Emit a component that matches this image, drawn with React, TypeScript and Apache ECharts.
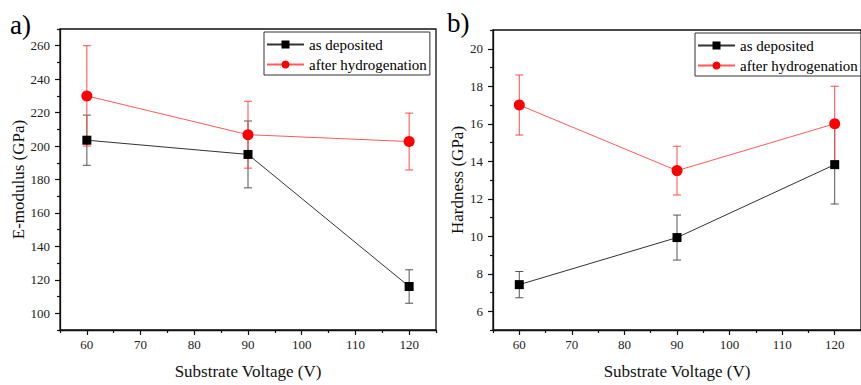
import React, { useEffect, useRef } from "react";
import * as echarts from "echarts";

const voltages = [60, 90, 120];
const eModDep = [203.5, 195, 116];
const eModDepErr = [15, 20, 10];
const eModHyd = [230, 206.8, 202.7];
const eModHydErr = [30, 20, 17];
const hardDep = [7.42, 9.93, 13.82];
const hardDepErr = [0.7, 1.2, 2.1];
const hardHyd = [17, 13.5, 16];
const hardHydErr = [1.6, 1.3, 2];

const xMajor = [60, 70, 80, 90, 100, 110, 120];
const xMinor = [55, 65, 75, 85, 95, 105, 115, 125];
const eMajor = [100, 120, 140, 160, 180, 200, 220, 240, 260];
const eMinor = [90, 110, 130, 150, 170, 190, 210, 230, 250, 270];
const hMajor = [6, 8, 10, 12, 14, 16, 18, 20];
const hMinor = [5, 7, 9, 11, 13, 15, 17, 19, 21];

const SERIES_DEP = "as deposited";
const SERIES_HYD = "after hydrogenation";

const FONT = "Liberation Serif";

export default function App() {
  const ref = useRef<HTMLDivElement>(null);
  useEffect(() => {
    if (!ref.current) return;
    const chart = echarts.init(ref.current, undefined, { renderer: "svg" });

    const pts = (vals: number[]) => voltages.map((v, i) => [v, vals[i]]);
    const errs = (vals: number[], e: number[]) =>
      voltages.map((v, i) => [v, vals[i] - e[i], vals[i] + e[i]]);

    const errRender = (color: string) => (params: any, api: any) => {
      const x = api.value(0);
      const lo = api.coord([x, api.value(1)]);
      const hi = api.coord([x, api.value(2)]);
      const w = 4;
      const style = { stroke: color, lineWidth: 1 };
      return {
        type: "group",
        children: [
          { type: "line", shape: { x1: lo[0], y1: lo[1], x2: hi[0], y2: hi[1] }, style },
          { type: "line", shape: { x1: lo[0] - w, y1: lo[1], x2: lo[0] + w, y2: lo[1] }, style },
          { type: "line", shape: { x1: hi[0] - w, y1: hi[1], x2: hi[0] + w, y2: hi[1] }, style },
        ],
      };
    };

    const labelStyle = { fontFamily: FONT, fontSize: 13, color: "#222" };
    const nameStyle = { fontFamily: FONT, fontSize: 17, color: "#111" };
    const axisLine = { show: true, lineStyle: { color: "#111", width: 1.3 } };

    const mkX = (grid: number) => [
      {
        type: "value", gridIndex: grid, min: 55, max: 125, position: "bottom",
        name: "Substrate Voltage (V)", nameLocation: "middle", nameGap: 33,
        nameTextStyle: nameStyle,
        axisLine,
        axisTick: { show: true, customValues: xMajor, length: 5, lineStyle: { color: "#111", width: 1.2 } },
        axisLabel: { customValues: xMajor, margin: 8, ...labelStyle },
        splitLine: { show: false },
      },
      {
        type: "value", gridIndex: grid, min: 55, max: 125, position: "bottom",
        axisLine: { show: false },
        axisTick: { show: true, customValues: xMinor, length: 3, lineStyle: { color: "#111", width: 1.2 } },
        axisLabel: { show: false },
        splitLine: { show: false },
      },
    ];
    const mkY = (grid: number, name: string, min: number, max: number, major: number[], minor: number[], gap: number) => [
      {
        type: "value", gridIndex: grid, min, max, position: "left",
        name, nameLocation: "middle", nameGap: gap, nameTextStyle: nameStyle,
        axisLine,
        axisTick: { show: true, customValues: major, length: 5, lineStyle: { color: "#111", width: 1.2 } },
        axisLabel: { customValues: major, margin: 10, ...labelStyle },
        splitLine: { show: false },
      },
      {
        type: "value", gridIndex: grid, min, max, position: "left",
        axisLine: { show: false },
        axisTick: { show: true, customValues: minor, length: 3, lineStyle: { color: "#111", width: 1.2 } },
        axisLabel: { show: false },
        splitLine: { show: false },
      },
    ];

    const depLine = { color: "#333", width: 1 };
    const hydLine = { color: "#ff5a5a", width: 1 };

    const mkSeries = (xi: number, yi: number, dep: number[], depE: number[], hyd: number[], hydE: number[], tag: string) => [
      {
        type: "custom", name: "err-dep-" + tag, xAxisIndex: xi, yAxisIndex: yi,
        renderItem: errRender("#555"), data: errs(dep, depE), encode: { x: 0, y: [1, 2] }, z: 1,
      },
      {
        type: "custom", name: "err-hyd-" + tag, xAxisIndex: xi, yAxisIndex: yi,
        renderItem: errRender("#ff4a4a"), data: errs(hyd, hydE), encode: { x: 0, y: [1, 2] }, z: 1,
      },
      {
        type: "line", name: SERIES_HYD, xAxisIndex: xi, yAxisIndex: yi, data: pts(hyd),
        symbol: "circle", symbolSize: 11, lineStyle: hydLine,
        itemStyle: { color: "#ff0000" }, z: 3,
      },
      {
        type: "line", name: SERIES_DEP, xAxisIndex: xi, yAxisIndex: yi, data: pts(dep),
        symbol: "rect", symbolSize: 9, lineStyle: depLine,
        itemStyle: { color: "#000" }, z: 4,
      },
    ];

    const legendBase = {
      orient: "vertical",
      data: [SERIES_DEP, SERIES_HYD],
      itemWidth: 37, itemHeight: 10, itemGap: 5,
      padding: [5, 3, 3, 2],
      borderColor: "#333", borderWidth: 1, borderRadius: 0,
      backgroundColor: "#fff",
      textStyle: { fontFamily: FONT, fontSize: 15, color: "#000" },
      selectedMode: false,
    };

    chart.setOption({
      animation: false,
      backgroundColor: "#fff",
      textStyle: { fontFamily: FONT },
      grid: [
        { left: 60, top: 29, right: 425, bottom: 51, show: true, borderColor: "#111", borderWidth: 1.3, backgroundColor: "transparent" },
        { left: 493, top: 30, right: -11, bottom: 50, show: true, borderColor: "#111", borderWidth: 1.3, backgroundColor: "transparent" },
      ],
      xAxis: [...mkX(0), ...mkX(1)],
      yAxis: [
        ...mkY(0, "E-modulus (GPa)", 90, 270, eMajor, eMinor, 31),
        ...mkY(1, "Hardness (GPa)", 5, 21, hMajor, hMinor, 26),
      ],
      legend: [
        { ...legendBase, left: 264, top: 32 },
        { ...legendBase, left: 695, top: 33 },
      ],
      graphic: [
        { type: "text", left: 10, top: 11, style: { text: "a)", fontFamily: FONT, fontSize: 27, fill: "#000" } },
        { type: "text", left: 447, top: 9, style: { text: "b)", fontFamily: FONT, fontSize: 27, fill: "#000" } },
      ],
      series: [
        ...mkSeries(0, 0, eModDep, eModDepErr, eModHyd, eModHydErr, "e"),
        ...mkSeries(2, 2, hardDep, hardDepErr, hardHyd, hardHydErr, "h"),
      ],
    });

    return () => chart.dispose();
  }, []);

  return (
    <div
      ref={ref}
      style={{ position: "fixed", left: 0, top: 0, width: 861, height: 385, overflow: "hidden" }}
    />
  );
}
